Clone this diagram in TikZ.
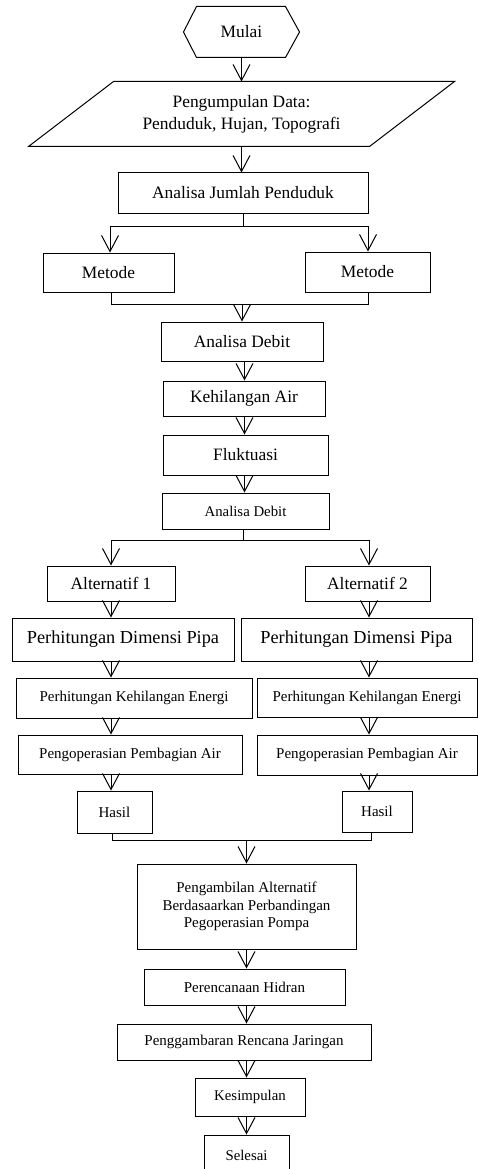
\documentclass[tikz,border=0pt]{standalone}
\usepackage{fontspec}
\setmainfont{Liberation Serif}
\usetikzlibrary{arrows.meta,calc}
\begin{document}
\begin{tikzpicture}[x=1pt,y=-1pt,line width=1pt,
  box/.style={draw,rectangle,inner sep=0pt,align=center},
  arr/.style={-{Straight Barb[length=16pt,width=17pt]}},
  fA/.style={font=\fontsize{17.4}{21}\selectfont},
  fB/.style={font=\fontsize{15}{17.4}\selectfont},
  fC/.style={font=\fontsize{18.3}{22}\selectfont},
  fD/.style={font=\fontsize{14.8}{17.4}\selectfont}]
\clip (0,0) rectangle (478,1169);
\fill[white] (0,0) rectangle (478,1169);
% start
\node[fA,inner sep=0pt,minimum width=115pt,minimum height=50pt] (mulai) at (241.5,32) {Mulai};
\draw ([xshift=13pt]mulai.north west) -- ([xshift=-14pt]mulai.north east) -- (mulai.east)
  -- ([xshift=-14pt]mulai.south east) -- ([xshift=13pt]mulai.south west) -- (mulai.west) -- cycle;
% data
\node[fA,inner sep=0pt,align=center,minimum width=425pt,minimum height=64pt] (data) at (241.5,114) {Pengumpulan Data:\\[1pt]Penduduk, Hujan, Topografi};
\draw ([xshift=85pt]data.north west) -- (data.north east) -- ([xshift=-85pt]data.south east) -- (data.south west) -- cycle;
% boxes
\node[box,fA,minimum width=250pt,minimum height=40pt] (ajp) at (243,193) {Analisa Jumlah Penduduk};
\node[box,fA,minimum width=131pt,minimum height=39pt] (met1) at (108.5,272.5) {Metode};
\node[box,fA,minimum width=125pt,minimum height=40pt] (met2) at (367.5,272) {Metode};
\node[box,fA,minimum width=162pt,minimum height=39pt] (ad1) at (242,341.5) {Analisa Debit};
\node[box,fA,minimum width=162pt,minimum height=35pt] (ka) at (244,398.5) {Kehilangan Air};
\node[box,fA,minimum width=165pt,minimum height=40pt] (fl) at (245.5,455) {Fluktuasi};
\node[box,fD,minimum width=167pt,minimum height=36pt] (ad2) at (245.5,511) {Analisa Debit};
\node[box,fA,minimum width=128pt,minimum height=35pt] (alt1) at (111,583.5) {Alternatif 1};
\node[box,fA,minimum width=125pt,minimum height=35pt] (alt2) at (367.5,583.5) {Alternatif 2};
\node[box,fC,minimum width=222pt,minimum height=43pt] (pdp1) at (123,639.5) {Perhitungan Dimensi Pipa};
\node[box,fC,minimum width=231pt,minimum height=43pt] (pdp2) at (356.5,639.5) {Perhitungan Dimensi Pipa};
\node[box,fB,minimum width=236pt,minimum height=40pt] (pke1) at (134,698) {Perhitungan Kehilangan Energi};
\node[box,fB,minimum width=220pt,minimum height=39pt] (pke2) at (367,697.5) {Perhitungan Kehilangan Energi};
\node[box,fB,minimum width=224pt,minimum height=39pt] (ppa1) at (130,754.5) {Pengoperasian Pembagian Air};
\node[box,fB,minimum width=220pt,minimum height=40pt] (ppa2) at (367,755) {Pengoperasian Pembagian Air};
\node[box,fB,minimum width=75pt,minimum height=42pt] (has1) at (114.5,812) {Hasil};
\node[box,fB,minimum width=70pt,minimum height=41pt] (has2) at (377,811.5) {Hasil};
\node[box,fB,minimum width=219pt,minimum height=85pt] (pa) at (246.5,906.5) {Pengambilan Alternatif\\Berdasaarkan Perbandingan\\Pegoperasian Pompa};
\node[box,fB,minimum width=201pt,minimum height=36pt] (ph) at (244.5,987) {Perencanaan Hidran};
\node[box,fB,minimum width=254pt,minimum height=36pt] (prj) at (244,1042) {Penggambaran Rencana Jaringan};
\node[box,fD,minimum width=110pt,minimum height=38pt] (kes) at (250,1097) {Kesimpulan};
\node[box,fD,minimum width=85pt,minimum height=40pt] (sel) at (246.5,1155) {Selesai};
% branch coordinates
\coordinate (b1L) at (110,226);
\coordinate (b1R) at (368,226);
\coordinate (m1L) at (111,304);
\coordinate (m1R) at (368,304);
\coordinate (b2L) at (111,540);
\coordinate (b2R) at (369,540);
\coordinate (m2L) at (112,840);
\coordinate (m2R) at (371,840);
% connectors
\draw[arr] (mulai.south) -- (mulai.south |- data.north);
\draw[arr] (data.south) -- (data.south |- ajp.north);
\draw (ajp.south) -- (ajp.south |- b1L);
\draw (b1L) -- (b1R);
\draw[arr] (b1L) -- (b1L |- met1.north);
\draw[arr] (b1R) -- (b1R |- met2.north);
\draw (met1.south -| m1L) -- (m1L) -- (m1R) -- (met2.south -| m1R);
\draw[arr] (ad1.north |- m1L) -- (ad1.north);
\draw[arr] ([xshift=2.5pt]ad1.south) -- ([xshift=2.5pt]ad1.south |- ka.north);
\draw[arr] ([xshift=0.5pt]ka.south) -- ([xshift=0.5pt]ka.south |- fl.north);
\draw[arr] ([xshift=-1pt]fl.south) -- ([xshift=-1pt]fl.south |- ad2.north);
\draw ([xshift=-2.5pt]ad2.south) -- ([xshift=-2.5pt]ad2.south |- b2L);
\draw (b2L) -- (b2R);
\draw[arr] (b2L) -- (b2L |- alt1.north);
\draw[arr] (b2R) -- (b2R |- alt2.north);
\draw[arr] (alt1.south) -- (alt1.south |- pdp1.north);
\draw[arr] (alt1.south |- pdp1.south) -- (alt1.south |- pke1.north);
\draw[arr] (alt1.south |- pke1.south) -- (alt1.south |- ppa1.north);
\draw[arr] (alt1.south |- ppa1.south) -- (alt1.south |- has1.north);
\draw[arr] (b2R |- alt2.south) -- (b2R |- pdp2.north);
\draw[arr] (b2R |- pdp2.south) -- (b2R |- pke2.north);
\draw[arr] (b2R |- pke2.south) -- (b2R |- ppa2.north);
\draw[arr] (b2R |- ppa2.south) -- (b2R |- has2.north);
\draw (has1.south -| m2L) -- (m2L) -- (m2R) -- (has2.south -| m2R);
\draw[arr] (pa.north |- m2L) -- (pa.north);
\draw[arr] (pa.south) -- (pa.south |- ph.north);
\draw[arr] (pa.south |- ph.south) -- (pa.south |- prj.north);
\draw[arr] (pa.south |- prj.south) -- (pa.south |- kes.north);
\draw[arr] (pa.south |- kes.south) -- (pa.south |- sel.north);
\end{tikzpicture}
\end{document}
